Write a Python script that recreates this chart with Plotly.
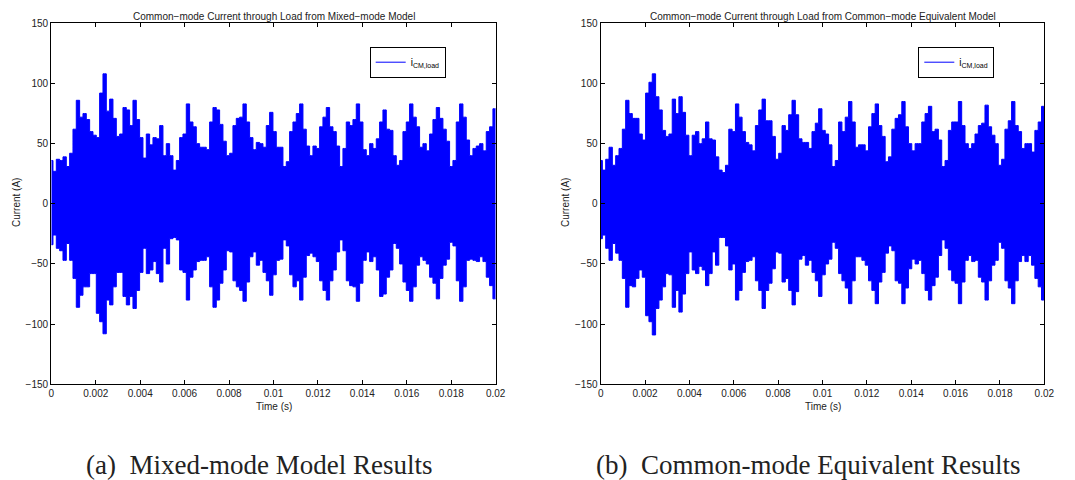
import plotly.graph_objects as go

# ---------------- data ----------------
# sample times (s): every 0.00015 s across the 0.02 s window
time_s = [round(i * 0.00015, 5) for i in range(134)]

# envelope of i_CM,load, mixed-mode model (A)
mixed_upper = [36, 27, 37, 36, 39, 31, 42, 62, 86, 72, 75, 70, 60, 57, 55, 92, 108, 77, 87, 71,
               56, 58, 80, 78, 65, 86, 70, 55, 38, 58, 49, 55, 54, 65, 40, 50, 40, 28, 36, 55,
               58, 83, 68, 64, 50, 47, 47, 45, 68, 80, 78, 66, 52, 40, 42, 65, 71, 72, 83, 68,
               55, 45, 51, 50, 47, 65, 76, 60, 47, 47, 31, 35, 60, 68, 75, 83, 62, 48, 40, 48,
               46, 64, 72, 80, 64, 60, 48, 31, 46, 68, 65, 70, 83, 68, 45, 40, 50, 46, 54, 68,
               78, 62, 61, 40, 32, 36, 60, 68, 83, 72, 64, 47, 50, 44, 58, 70, 80, 71, 62, 52,
               31, 36, 68, 83, 72, 53, 40, 46, 48, 50, 44, 60, 64, 79]
mixed_lower = [-34, -26, -37, -39, -47, -33, -47, -62, -86, -76, -69, -69, -58, -58, -91, -98, -108, -80, -84, -69,
               -57, -57, -77, -84, -77, -87, -72, -57, -37, -58, -55, -48, -58, -65, -37, -50, -29, -28, -30, -55,
               -57, -80, -61, -55, -48, -47, -47, -44, -69, -86, -80, -66, -55, -39, -40, -64, -69, -72, -81, -65,
               -44, -40, -51, -47, -57, -64, -76, -59, -47, -46, -30, -35, -59, -69, -64, -80, -61, -43, -41, -44,
               -48, -64, -72, -80, -64, -55, -40, -30, -39, -64, -68, -69, -81, -66, -47, -40, -48, -44, -55, -77,
               -75, -61, -55, -33, -37, -50, -65, -72, -81, -69, -51, -44, -47, -50, -61, -66, -79, -62, -51, -46,
               -32, -35, -64, -81, -69, -47, -46, -47, -48, -44, -48, -61, -68, -79]

# envelope of i_CM,load, common-mode equivalent model (A)
equiv_upper = [36, 28, 37, 47, 32, 40, 46, 62, 86, 75, 71, 71, 58, 53, 92, 101, 108, 89, 78, 61,
               56, 58, 87, 75, 89, 76, 57, 40, 57, 60, 50, 54, 68, 54, 53, 39, 28, 26, 32, 62,
               60, 83, 72, 60, 51, 49, 44, 65, 78, 87, 69, 69, 56, 37, 42, 65, 61, 74, 86, 74,
               54, 51, 51, 46, 60, 67, 79, 61, 58, 49, 31, 36, 68, 60, 72, 85, 68, 47, 49, 49,
               44, 64, 75, 83, 65, 56, 35, 39, 62, 71, 74, 85, 64, 50, 44, 50, 50, 68, 75, 81,
               60, 62, 53, 31, 36, 61, 68, 68, 85, 65, 50, 46, 50, 58, 65, 67, 82, 64, 57, 50,
               32, 37, 62, 69, 85, 65, 60, 46, 50, 50, 43, 61, 68, 81]
equiv_lower = [-29, -26, -37, -47, -33, -41, -47, -62, -86, -68, -69, -62, -55, -61, -93, -98, -109, -87, -80, -69,
               -58, -59, -86, -72, -90, -75, -58, -40, -55, -58, -52, -55, -68, -58, -40, -51, -28, -28, -35, -55,
               -50, -80, -72, -57, -48, -47, -44, -64, -72, -87, -72, -66, -54, -40, -41, -65, -62, -72, -84, -73,
               -46, -43, -51, -47, -57, -64, -77, -59, -50, -46, -32, -37, -58, -64, -70, -83, -64, -44, -44, -47,
               -51, -64, -72, -83, -65, -57, -41, -35, -39, -64, -66, -83, -70, -54, -46, -50, -47, -58, -72, -80,
               -68, -61, -43, -30, -37, -55, -64, -66, -83, -65, -47, -43, -48, -47, -61, -65, -80, -64, -51, -47,
               -32, -37, -64, -70, -83, -64, -48, -43, -48, -43, -51, -62, -69, -80]

x_tick_vals = [0, 0.002, 0.004, 0.006, 0.008, 0.01, 0.012, 0.014, 0.016, 0.018, 0.02]
x_tick_text = ["0", "0.002", "0.004", "0.006", "0.008", "0.01", "0.012", "0.014", "0.016", "0.018", "0.02"]
y_tick_vals = [-150, -100, -50, 0, 50, 100, 150]
y_tick_text = ["\u2212150", "\u2212100", "\u221250", "0", "50", "100", "150"]

titles = ["Common\u2212mode Current through Load from Mixed\u2212mode Model",
          "Common\u2212mode Current through Load from Common\u2212mode Equivalent Model"]
captions = ["(a)\u2002Mixed-mode Model Results", "(b)\u2002Common-mode Equivalent Results"]
series_name = "i<sub>CM,load</sub>"

# ---------------- figure ----------------
# the page body has an 8 px margin, so the figure is placed at (8, 8)
OFF = 8
W, H = 1075 - OFF, 480 - OFF
BLUE = "#0000FF"
SANS = "Liberation Sans, Arial, Helvetica, sans-serif"

fig = go.Figure()

t_full = time_s + [0.02]
panels = [(mixed_upper, mixed_lower, "x", "y", "legend"),
          (equiv_upper, equiv_lower, "x2", "y2", "legend2")]
for upper, lower, xa, ya, lg in panels:
    fig.add_trace(go.Scatter(x=t_full, y=lower + [lower[-1]], mode="lines",
                             line=dict(color=BLUE, width=1, shape="hvh"),
                             name=series_name, showlegend=True, legend=lg,
                             xaxis=xa, yaxis=ya))
    fig.add_trace(go.Scatter(x=t_full, y=upper + [upper[-1]], mode="lines",
                             line=dict(color=BLUE, width=1, shape="hvh"),
                             fill="tonexty", fillcolor=BLUE,
                             showlegend=False, xaxis=xa, yaxis=ya))

def px_x(p):
    return (p - OFF) / W

def px_y(p):
    return 1 - (p - OFF) / H

ydom = [px_y(384.3), px_y(23.3)]
xdoms = [[px_x(51.3), px_x(495.7)], [px_x(600.7), px_x(1044.3)]]

axis_common = dict(showline=True, linecolor="black", linewidth=1.3, mirror="allticks",
                   ticks="inside", ticklen=4, tickcolor="black", tickwidth=1,
                   showgrid=False, zeroline=False, automargin=False,
                   tickfont=dict(family=SANS, size=10, color="#222222"))

fig.update_layout(
    width=W, height=H,
    margin=dict(l=0, r=0, t=0, b=0),
    paper_bgcolor="white", plot_bgcolor="white",
    xaxis=dict(domain=xdoms[0], range=[0, 0.02], tickvals=x_tick_vals, ticktext=x_tick_text,
               anchor="y", **axis_common),
    yaxis=dict(domain=ydom, range=[-150, 150], tickvals=y_tick_vals, ticktext=y_tick_text,
               anchor="x", **axis_common),
    xaxis2=dict(domain=xdoms[1], range=[0, 0.02], tickvals=x_tick_vals, ticktext=x_tick_text,
                anchor="y2", **axis_common),
    yaxis2=dict(domain=ydom, range=[-150, 150], tickvals=y_tick_vals, ticktext=y_tick_text,
                anchor="x2", **axis_common),
    legend=dict(x=px_x(445.7), y=px_y(46.7), xanchor="right", yanchor="top",
                bgcolor="white", bordercolor="black", borderwidth=1, itemwidth=30,
                font=dict(family=SANS, size=10, color="black")),
    legend2=dict(x=px_x(994.3), y=px_y(46.7), xanchor="right", yanchor="top",
                 bgcolor="white", bordercolor="black", borderwidth=1, itemwidth=30,
                 font=dict(family=SANS, size=10, color="black")),
    showlegend=True,
)

ann = []
centers = [273.5, 822.5]
ylab_x = [16, 565]
cap_x = [259, 807.5]
for k in range(2):
    ann.append(dict(text=titles[k], x=px_x(centers[k]), y=px_y(8.5), xref="paper", yref="paper",
                    showarrow=False, xanchor="center", yanchor="top",
                    font=dict(family=SANS, size=10, color="#222222")))
    ann.append(dict(text="Time (s)", x=px_x(centers[k]), y=px_y(406), xref="paper", yref="paper",
                    showarrow=False, xanchor="center", yanchor="middle",
                    font=dict(family=SANS, size=10, color="#222222")))
    ann.append(dict(text="Current (A)", x=px_x(ylab_x[k]), y=px_y(203), xref="paper", yref="paper",
                    showarrow=False, xanchor="center", yanchor="middle", textangle=-90,
                    font=dict(family=SANS, size=10, color="#222222")))
    ann.append(dict(text=captions[k], x=px_x(cap_x[k]), y=px_y(465), xref="paper", yref="paper",
                    showarrow=False, xanchor="center", yanchor="middle",
                    font=dict(family="Liberation Serif, Times New Roman, serif", size=27, color="#222222")))
fig.update_layout(annotations=ann)

fig.write_html("out.html")
